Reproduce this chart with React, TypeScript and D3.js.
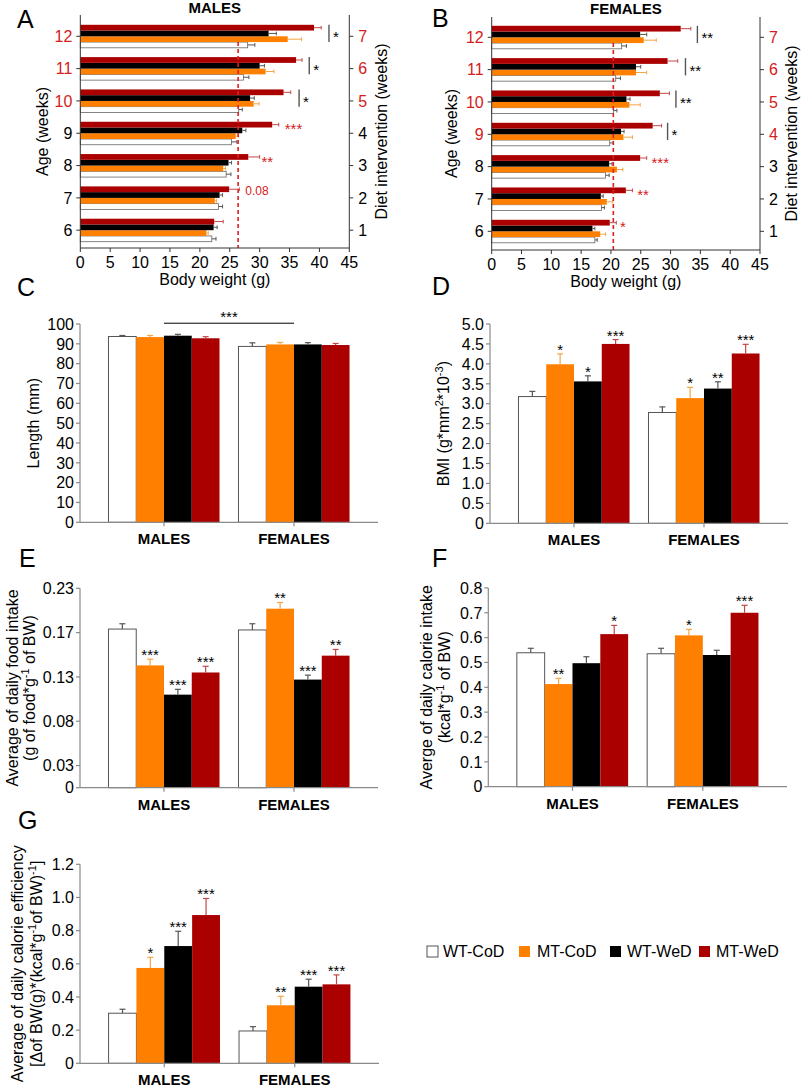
import React from "react";
import * as d3 from "d3";

const FONT = "'Liberation Sans', Arial, Helvetica, sans-serif";

const groupNames = ["WT-CoD", "MT-CoD", "WT-WeD", "MT-WeD"];
const groupColors = ["#ffffff", "#ff8000", "#000000", "#aa0000"];
const errColors = ["#555555", "#f5a545", "#555555", "#c04848"];
const sexes = ["MALES", "FEMALES"];

// Panels A/B
const ageWeeks = [12, 11, 10, 9, 8, 7, 6];
const dietWeeks = [7, 6, 5, 4, 3, 2, 1];
const weightTicks = [0, 5, 10, 15, 20, 25, 30, 35, 40, 45];

const maleWtCoD = [28.0, 27.3, 26.5, 25.3, 24.4, 23.1, 22.0];
const maleWtCoDErr = [1.2, 0.9, 0.6, 0.9, 0.8, 0.7, 0.7];
const maleMtCoD = [34.7, 31.0, 29.0, 26.0, 23.9, 22.5, 21.1];
const maleMtCoDErr = [2.3, 1.4, 0.9, 0.5, 0.4, 0.3, 0.3];
const maleWtWeD = [31.5, 30.0, 28.4, 27.1, 24.8, 23.3, 22.3];
const maleWtWeDErr = [1.3, 0.8, 0.7, 0.6, 0.5, 0.5, 0.6];
const maleMtWeD = [39.1, 36.1, 34.0, 32.1, 28.1, 24.9, 22.4];
const maleMtWeDErr = [1.2, 1.0, 1.2, 1.1, 1.9, 1.7, 1.5];
const maleDash = 26.4;

const femWtCoD = [21.8, 20.8, 20.4, 19.8, 19.1, 18.4, 17.3];
const femWtCoDErr = [0.8, 0.8, 0.6, 0.6, 0.6, 0.5, 0.4];
const femMtCoD = [25.5, 24.2, 23.1, 22.1, 21.0, 19.3, 18.2];
const femMtCoDErr = [2.1, 1.8, 1.8, 1.5, 1.0, 1.0, 0.9];
const femWtWeD = [24.9, 24.2, 22.6, 21.7, 19.7, 18.3, 16.9];
const femWtWeDErr = [1.1, 0.8, 0.6, 0.5, 0.5, 0.4, 0.4];
const femMtWeD = [31.7, 29.5, 28.2, 27.0, 24.9, 22.5, 19.8];
const femMtWeDErr = [1.7, 1.7, 1.6, 1.5, 1.1, 1.1, 1.1];
const femDash = 20.4;

const maleBrackets = [
  { age: 12, at: 41.6, label: "*" },
  { age: 11, at: 38.3, label: "*" },
  { age: 10, at: 36.6, label: "*" },
];
const maleRedNotes = [
  { age: 9, at: 34.2, label: "***" },
  { age: 8, at: 30.3, label: "**" },
  { age: 7, at: 27.6, label: "0.08" },
];
const femBrackets = [
  { age: 12, at: 34.5, label: "**" },
  { age: 11, at: 32.5, label: "**" },
  { age: 10, at: 30.9, label: "**" },
  { age: 9, at: 29.5, label: "*" },
];
const femRedNotes = [
  { age: 8, at: 26.8, label: "***" },
  { age: 7, at: 24.4, label: "**" },
  { age: 6, at: 21.5, label: "*" },
];

// Panel C: length
const lengthTicks = [0, 10, 20, 30, 40, 50, 60, 70, 80, 90, 100];
const lengthMales = [93.7, 93.4, 94.1, 92.8];
const lengthMalesErr = [0.5, 0.8, 0.7, 0.8];
const lengthFemales = [88.7, 89.7, 89.7, 89.4];
const lengthFemalesErr = [1.8, 1.0, 0.9, 0.8];
const lengthStarsM = ["", "", "", ""];
const lengthStarsF = ["", "", "", ""];
const lengthSexLevel = 100.4;

// Panel D: BMI
const bmiTicks = [0, 0.5, 1, 1.5, 2, 2.5, 3, 3.5, 4, 4.5, 5];
const bmiTickLabels = ["0", "0.5", "1.0", "1.5", "2.0", "2.5", "3.0", "3.5", "4.0", "4.5", "5.0"];
const bmiMales = [3.18, 3.99, 3.56, 4.5];
const bmiMalesErr = [0.13, 0.26, 0.14, 0.11];
const bmiFemales = [2.78, 3.14, 3.38, 4.26];
const bmiFemalesErr = [0.14, 0.27, 0.17, 0.23];
const bmiStarsM = ["", "*", "*", "***"];
const bmiStarsF = ["", "*", "**", "***"];

// Panel E: food intake
const foodTicks = [0, 0.025, 0.075, 0.125, 0.175, 0.225];
const foodTickLabels = ["0", "0.03", "0.08", "0.13", "0.17", "0.23"];
const foodMales = [0.179, 0.138, 0.105, 0.130];
const foodMalesErr = [0.006, 0.007, 0.006, 0.007];
const foodFemales = [0.178, 0.202, 0.122, 0.149];
const foodFemalesErr = [0.007, 0.007, 0.005, 0.007];
const foodStarsM = ["", "***", "***", "***"];
const foodStarsF = ["", "**", "***", "**"];

// Panel F: calorie intake
const calTicks = [0, 0.1, 0.2, 0.3, 0.4, 0.5, 0.6, 0.7, 0.8];
const calTickLabels = ["0", "0.1", "0.2", "0.3", "0.4", "0.5", "0.6", "0.7", "0.8"];
const calMales = [0.539, 0.413, 0.497, 0.614];
const calMalesErr = [0.018, 0.023, 0.026, 0.035];
const calFemales = [0.535, 0.609, 0.530, 0.700];
const calFemalesErr = [0.022, 0.024, 0.019, 0.030];
const calStarsM = ["", "**", "", "*"];
const calStarsF = ["", "*", "", "***"];

// Panel G: calorie efficiency
const effTicks = [0, 0.2, 0.4, 0.6, 0.8, 1.0, 1.2];
const effTickLabels = ["0", "0.2", "0.4", "0.6", "0.8", "1.0", "1.2"];
const effMales = [0.302, 0.575, 0.707, 0.894];
const effMalesErr = [0.024, 0.064, 0.089, 0.1];
const effFemales = [0.195, 0.35, 0.462, 0.476];
const effFemalesErr = [0.026, 0.054, 0.045, 0.057];
const effStarsM = ["", "*", "***", "***"];
const effStarsF = ["", "**", "***", "***"];

const RED_TXT = "#d42020";

function Sup({ children, size = 11, back }: any) {
  return (
    <>
      <tspan dy={-6} fontSize={size}>{children}</tspan>
      <tspan dy={6}>{back}</tspan>
    </>
  );
}

function HPanel(p: any) {
  const x = d3.scaleLinear().domain([0, 45]).range([p.x0, p.x1]);
  const yc = d3.scalePoint<number>().domain(ageWeeks).range([p.yFirst, p.yLast]);
  const sub = d3.scaleBand<number>().domain([3, 2, 1, 0]).range([-11.5, 11.5]);
  const bh = sub.bandwidth();
  const axisC = "#333";
  const cx = (p.x0 + p.x1) / 2;
  const cy = (p.yTop + p.yBot) / 2;
  return (
    <g fontFamily={FONT}>
      <text x={p.letterX} y={p.letterY} fontSize={25}>{p.letter}</text>
      <text x={cx} y={p.titleY} fontSize={15} fontWeight="bold" textAnchor="middle">{p.title}</text>
      {/* bars */}
      {ageWeeks.map((age, i) =>
        [0, 1, 2, 3].map((g) => {
          const v = p.series[g][i];
          const e = p.errs[g][i];
          const yy = (yc(age) as number) + (sub(g) as number);
          return (
            <g key={age + "-" + g}>
              <rect x={x(0)} y={yy} width={x(v) - x(0)} height={bh} fill={groupColors[g]}
                stroke={g === 0 ? "#666" : "none"} strokeWidth={g === 0 ? 0.8 : 0} />
              <line x1={x(v)} x2={x(v + e)} y1={yy + bh / 2} y2={yy + bh / 2} stroke={errColors[g]} strokeWidth={1} />
              <line x1={x(v + e)} x2={x(v + e)} y1={yy + 1} y2={yy + bh - 1} stroke={errColors[g]} strokeWidth={1} />
            </g>
          );
        })
      )}
      {/* dashed line */}
      <line x1={x(p.dash)} x2={x(p.dash)} y1={(yc(12) as number) + (sub(0) as number)} y2={p.yBot}
        stroke="#e02020" strokeWidth={1.6} strokeDasharray="4,3" />
      {/* brackets */}
      {p.brackets.map((b: any) => {
        const c = yc(b.age) as number;
        return (
          <g key={"b" + b.age}>
            <line x1={x(b.at)} x2={x(b.at)} y1={c + (sub(3) as number)} y2={c + (sub(1) as number) + bh}
              stroke="#555" strokeWidth={1.4} />
            <text x={x(b.at) + 4} y={c + 6} fontSize={15}>{b.label}</text>
          </g>
        );
      })}
      {p.redNotes.map((n: any) => {
        const c = yc(n.age) as number;
        const isNum = n.label.indexOf("*") < 0;
        return (
          <text key={"r" + n.age} x={x(n.at)} y={isNum ? c - 3 : c + 1} fontSize={isNum ? 12 : 15} fill={RED_TXT}>{n.label}</text>
        );
      })}
      {/* axes */}
      <line x1={p.x0} x2={p.x0} y1={p.yTop} y2={p.yBot} stroke={axisC} strokeWidth={1} />
      <line x1={p.x1} x2={p.x1} y1={p.yTop} y2={p.yBot} stroke={axisC} strokeWidth={1} />
      <line x1={p.x0} x2={p.x1} y1={p.yBot} y2={p.yBot} stroke={axisC} strokeWidth={1} />
      {weightTicks.map((t) => (
        <g key={"xt" + t}>
          <line x1={x(t)} x2={x(t)} y1={p.yBot} y2={p.yBot + 4} stroke={axisC} />
          <text x={x(t)} y={p.yBot + 20} fontSize={16} textAnchor="middle">{t}</text>
        </g>
      ))}
      {ageWeeks.map((age, i) => {
        const c = yc(age) as number;
        const red = i < p.redCount;
        return (
          <g key={"yt" + age}>
            <line x1={p.x0 - 4} x2={p.x0} y1={c} y2={c} stroke={axisC} />
            <text x={p.x0 - 8} y={c} dy="0.36em" fontSize={16} textAnchor="end" fill={red ? RED_TXT : "#000"}>{age}</text>
            <line x1={p.x1} x2={p.x1 + 4} y1={c} y2={c} stroke={axisC} />
            <text x={p.x1 + 9} y={c} dy="0.36em" fontSize={16} fill={red ? RED_TXT : "#000"}>{dietWeeks[i]}</text>
          </g>
        );
      })}
      <text x={cx} y={p.yBot + 37} fontSize={16} textAnchor="middle">Body weight (g)</text>
      <text transform={`translate(${p.leftLabX},${cy}) rotate(-90)`} fontSize={16} textAnchor="middle">Age (weeks)</text>
      <text transform={`translate(${p.rightLabX},${cy}) rotate(-90)`} fontSize={16} textAnchor="middle">Diet intervention (weeks)</text>
    </g>
  );
}

function VPanel(p: any) {
  const xb = d3.scaleBand<string>().domain(sexes).range([p.x0, p.x1]).paddingInner(0.146).paddingOuter(0.219);
  const xi = d3.scaleBand<number>().domain([0, 1, 2, 3]).range([0, xb.bandwidth()]);
  const bw = xi.bandwidth();
  const y = d3.scaleLinear().domain([0, p.max]).range([p.yBase, p.yTop]);
  const axisC = "#8a8a8a";
  const cy = (p.yBase + p.yTop) / 2;
  const sets = [
    { sex: "MALES", vals: p.males, errs: p.malesErr, stars: p.starsM },
    { sex: "FEMALES", vals: p.females, errs: p.femalesErr, stars: p.starsF },
  ];
  return (
    <g fontFamily={FONT}>
      <text x={p.letterX} y={p.letterY} fontSize={25}>{p.letter}</text>
      {sets.map((s) =>
        s.vals.map((v: number, g: number) => {
          const bx = (xb(s.sex) as number) + (xi(g) as number);
          const e = s.errs[g];
          const mid = bx + bw / 2;
          return (
            <g key={s.sex + g}>
              <rect x={bx} y={y(v)} width={bw} height={y(0) - y(v)} fill={groupColors[g]}
                stroke={g === 0 ? "#555" : "none"} strokeWidth={g === 0 ? 1 : 0} />
              <line x1={mid} x2={mid} y1={y(v)} y2={y(v + e)} stroke={errColors[g]} strokeWidth={1.2} />
              <line x1={mid - 3} x2={mid + 3} y1={y(v + e)} y2={y(v + e)} stroke={errColors[g]} strokeWidth={1.2} />
              {s.stars[g] ? (
                <text x={mid} y={y(v + e) + 1} fontSize={15} textAnchor="middle">{s.stars[g]}</text>
              ) : null}
            </g>
          );
        })
      )}
      {p.sexLevel ? (
        <g>
          <line x1={(xb("MALES") as number) + xb.bandwidth() / 2} x2={(xb("FEMALES") as number) + xb.bandwidth() / 2}
            y1={y(p.sexLevel)} y2={y(p.sexLevel)} stroke="#000" strokeWidth={1} />
          <text x={(p.x0 + p.x1) / 2 + 0} y={y(p.sexLevel) - 1} fontSize={15} textAnchor="middle">***</text>
        </g>
      ) : null}
      <line x1={p.x0} x2={p.x0} y1={p.yTop} y2={p.yBase} stroke={axisC} strokeWidth={1.2} />
      <line x1={p.x0} x2={p.x1} y1={p.yBase} y2={p.yBase} stroke={axisC} strokeWidth={1.2} />
      {p.ticks.map((t: number, i: number) => (
        <g key={"t" + i}>
          <line x1={p.x0 - 4} x2={p.x0} y1={y(t)} y2={y(t)} stroke={axisC} strokeWidth={1.2} />
          <text x={p.x0 - 6} y={y(t)} dy="0.36em" fontSize={16} textAnchor="end">{p.tickLabels[i]}</text>
        </g>
      ))}
      {sexes.map((s) => {
        const c = (xb(s) as number) + xb.bandwidth() / 2;
        return (
          <g key={s}>
            <line x1={c} x2={c} y1={p.yBase} y2={p.yBase + 4} stroke={axisC} strokeWidth={1.2} />
            <text x={c} y={p.yBase + 22} fontSize={15} fontWeight="bold" textAnchor="middle">{s}</text>
          </g>
        );
      })}
      {p.ylabels.map((lab: any, i: number) => (
        <text key={"yl" + i} transform={`translate(${lab.x},${cy}) rotate(-90)`} fontSize={16} textAnchor="middle">{lab.content}</text>
      ))}
    </g>
  );
}

function Legend() {
  const items = [
    { bx: 427, tx: 443 },
    { bx: 519, tx: 537 },
    { bx: 610, tx: 627 },
    { bx: 699, tx: 716 },
  ];
  return (
    <g fontFamily={FONT}>
      {groupNames.map((n, i) => (
        <g key={n}>
          <rect x={items[i].bx} y={946} width={11} height={11} fill={groupColors[i]} stroke={i === 0 ? "#555" : "none"} />
          <text x={items[i].tx} y={957} fontSize={16}>{n}</text>
        </g>
      ))}
    </g>
  );
}

export default function App() {
  return (
    <svg width={805} height={1090} style={{ position: "absolute", left: 0, top: 0, background: "#fff" }}>
      <rect width={805} height={1090} fill="#fff" />
      <HPanel x0={80.3} x1={349.3} yTop={15} yBot={248} yFirst={36.3} yLast={230.2}
        series={[maleWtCoD, maleMtCoD, maleWtWeD, maleMtWeD]}
        errs={[maleWtCoDErr, maleMtCoDErr, maleWtWeDErr, maleMtWeDErr]}
        dash={maleDash} brackets={maleBrackets} redNotes={maleRedNotes} redCount={3}
        title="MALES" titleY={13} letter="A" letterX={17} letterY={28} leftLabX={48} rightLabX={387} />
      <HPanel x0={491.7} x1={760} yTop={17} yBot={250} yFirst={37.3} yLast={231.3}
        series={[femWtCoD, femMtCoD, femWtWeD, femMtWeD]}
        errs={[femWtCoDErr, femMtCoDErr, femWtWeDErr, femMtWeDErr]}
        dash={femDash} brackets={femBrackets} redNotes={femRedNotes} redCount={4}
        title="FEMALES" titleY={14} letter="B" letterX={432} letterY={27} leftLabX={457} rightLabX={797} />
      <VPanel x0={80} x1={378} yBase={522.3} yTop={324} max={100} ticks={lengthTicks} tickLabels={lengthTicks.map(String)}
        males={lengthMales} malesErr={lengthMalesErr} females={lengthFemales} femalesErr={lengthFemalesErr}
        starsM={lengthStarsM} starsF={lengthStarsF} sexLevel={lengthSexLevel}
        letter="C" letterX={17} letterY={296}
        ylabels={[{ x: 39, content: "Length (mm)" }]} />
      <VPanel x0={490} x1={788} yBase={523.3} yTop={324} max={5} ticks={bmiTicks} tickLabels={bmiTickLabels}
        males={bmiMales} malesErr={bmiMalesErr} females={bmiFemales} femalesErr={bmiFemalesErr}
        starsM={bmiStarsM} starsF={bmiStarsF}
        letter="D" letterX={432} letterY={295}
        ylabels={[{ x: 449, content: <>BMI (g*mm<Sup back="*10">2</Sup><Sup back=")">-3</Sup></> }]} />
      <VPanel x0={80} x1={378} yBase={787.7} yTop={588.3} max={0.225} ticks={foodTicks} tickLabels={foodTickLabels}
        males={foodMales} malesErr={foodMalesErr} females={foodFemales} femalesErr={foodFemalesErr}
        starsM={foodStarsM} starsF={foodStarsF}
        letter="E" letterX={19} letterY={567}
        ylabels={[
          { x: 18, content: "Average of daily food intake" },
          { x: 35, content: <>(g of food*g<Sup back=" of BW)">-1</Sup></> },
        ]} />
      <VPanel x0={488.3} x1={787} yBase={786.7} yTop={587.9} max={0.8} ticks={calTicks} tickLabels={calTickLabels}
        males={calMales} malesErr={calMalesErr} females={calFemales} femalesErr={calFemalesErr}
        starsM={calStarsM} starsF={calStarsF}
        letter="F" letterX={432} letterY={567}
        ylabels={[
          { x: 432, content: "Averge of daily calorie intake" },
          { x: 450, content: <>(kcal*g<Sup back=" of BW)">-1</Sup></> },
        ]} />
      <VPanel x0={80} x1={379} yBase={1063.3} yTop={864.3} max={1.2} ticks={effTicks} tickLabels={effTickLabels}
        males={effMales} malesErr={effMalesErr} females={effFemales} femalesErr={effFemalesErr}
        starsM={effStarsM} starsF={effStarsF}
        letter="G" letterX={18} letterY={829}
        ylabels={[
          { x: 23, content: "Average of daily calorie efficiency" },
          { x: 42, content: <>[Δof BW(g)*(kcal*g<Sup back="of BW)">-1</Sup><Sup back="]">-1</Sup></> },
        ]} />
      <Legend />
    </svg>
  );
}
